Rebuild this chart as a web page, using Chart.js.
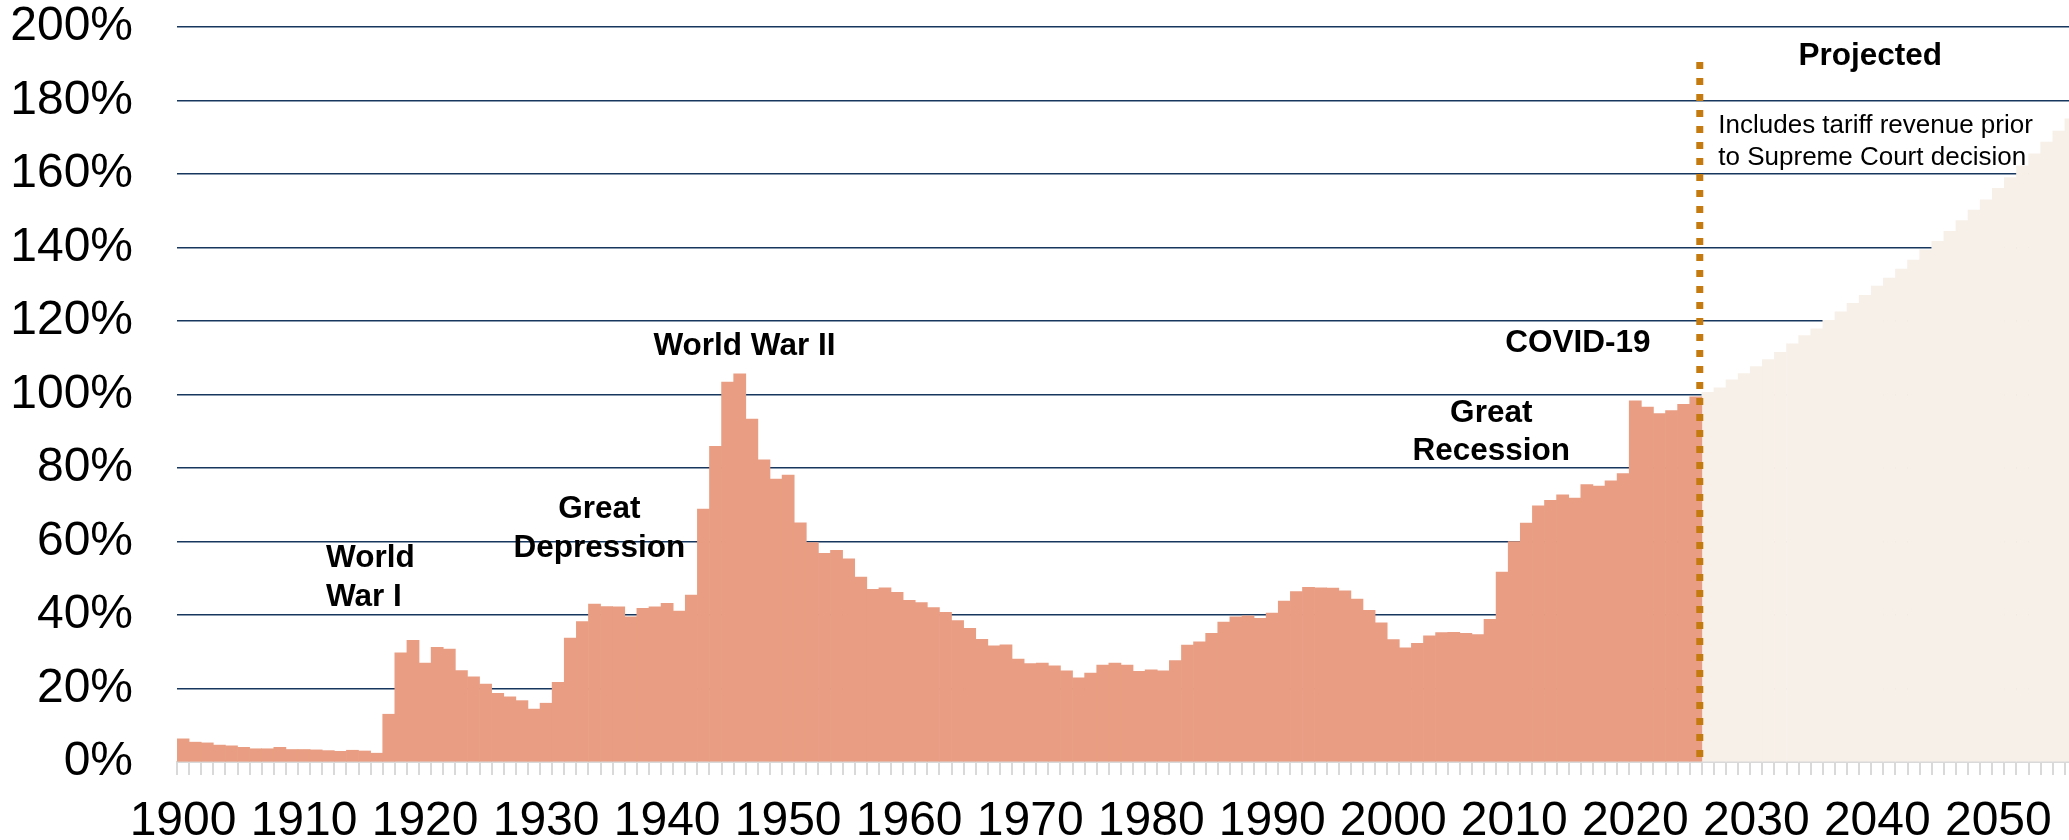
<!DOCTYPE html>
<html><head><meta charset="utf-8">
<script src="https://cdn.jsdelivr.net/npm/chart.js@4.4.1/dist/chart.umd.min.js"></script>
<style>
html,body{margin:0;padding:0;background:#fff;overflow:hidden;}
#wrap{position:absolute;left:0;top:0;width:2077px;height:840px;}
</style></head><body>
<div id="wrap"><canvas id="c"></canvas></div>
<script>
// ---- DATA ----
const firstYear = 1900;
const lastYear = 2056;
const years = [];
for (let yr = firstYear; yr <= lastYear; yr++) years.push(yr);

// Debt held by the public, % of GDP (historical 1900-2025)
const historical = [
  6.3, 5.4, 5.2, 4.6, 4.4, 4.0, 3.6, 3.6, 4.0, 3.4,
  3.4, 3.3, 3.1, 2.9, 3.2, 3.0, 2.4, 13.0, 29.7, 33.1,
  26.9, 31.2, 30.7, 24.9, 23.2, 21.2, 18.7, 17.7, 16.7, 14.4,
  16.0, 21.7, 33.7, 38.2, 43.0, 42.3, 42.2, 39.5, 41.8, 42.2,
  43.2, 41.1, 45.4, 68.8, 85.9, 103.4, 105.6, 93.3, 82.2, 77.0,
  78.1, 65.1, 59.7, 56.8, 57.6, 55.3, 50.3, 47.0, 47.4, 46.2,
  44.0, 43.4, 42.0, 40.7, 38.5, 36.4, 33.4, 31.6, 31.9, 28.0,
  26.8, 26.9, 26.2, 24.8, 22.9, 24.2, 26.4, 26.9, 26.4, 24.7,
  25.1, 24.8, 27.6, 31.8, 32.7, 35.0, 38.1, 39.5, 39.8, 39.1,
  40.5, 43.8, 46.4, 47.5, 47.4, 47.3, 46.6, 44.3, 41.3, 37.9,
  33.3, 31.1, 32.3, 34.3, 35.2, 35.3, 35.0, 34.7, 38.8, 51.7,
  60.0, 65.0, 69.7, 71.2, 72.7, 71.8, 75.5, 75.1, 76.5, 78.5,
  98.3, 96.6, 94.8, 95.6, 97.3, 99.4
];
// Projected 2026-2056
const projected = [
  100.6, 101.8, 104.0, 105.7, 107.6, 109.5, 111.5, 113.8, 116.0, 117.9,
  120.2, 122.5, 124.8, 127.0, 129.5, 131.7, 134.1, 136.6, 139.4, 141.7,
  144.4, 147.3, 150.2, 153.0, 156.1, 159.0, 162.2, 165.5, 168.7, 171.7,
  175.0
];
const yTicks = [0, 20, 40, 60, 80, 100, 120, 140, 160, 180, 200];
const xLabelYears = [1900, 1910, 1920, 1930, 1940, 1950, 1960, 1970, 1980, 1990, 2000, 2010, 2020, 2030, 2040, 2050];

// annotations (year position, value of first baseline)
const notes = [
  { lines: ['World War II'], year: 1946.39, value: 110.75, align: 'center', bold: true },
  { lines: ['World', 'War I'], year: 1911.81, value: 52.98, align: 'left', bold: true },
  { lines: ['Great', 'Depression'], year: 1934.4, value: 66.31, align: 'center', bold: true },
  { lines: ['Great', 'Recession'], year: 2008.1, value: 92.6, align: 'center', bold: true },
  { lines: ['COVID-19'], year: 2015.26, value: 111.65, align: 'center', bold: true },
  { lines: ['Projected'], year: 2039.42, value: 189.66, align: 'center', bold: true },
  { lines: ['Includes tariff revenue prior', 'to Supreme Court decision'], year: 2026.86, value: 171.07, align: 'left', bold: false }
];
const dividerYear = 2025.33;
const dividerTop = 190.5;

// ---- BUILD ----
const histData = years.map((yr, i) => i < historical.length ? historical[i] : null);
const projData = years.map((yr, i) => i >= historical.length ? projected[i - historical.length] : null);

const FONT = '"Liberation Sans", Arial, Helvetica, sans-serif';

const annotPlugin = {
  id: 'annot',
  afterDatasetsDraw(chart) {
    const { ctx, scales: { x, y } } = chart;
    ctx.save();
    // divider dotted line
    const dx = x.getPixelForValue(dividerYear - firstYear);
    ctx.strokeStyle = '#C47A0F';
    ctx.lineWidth = 7;
    ctx.setLineDash([7, 9]);
    ctx.beginPath();
    ctx.moveTo(dx, y.getPixelForValue(dividerTop));
    ctx.lineTo(dx, y.getPixelForValue(0));
    ctx.stroke();
    ctx.setLineDash([]);
    // texts
    ctx.fillStyle = '#000';
    ctx.textBaseline = 'alphabetic';
    notes.forEach(n => {
      const size = n.bold ? 31.5 : 26;
      const gap = n.bold ? 38.5 : 31.7;
      ctx.font = (n.bold ? 'bold ' : '') + size + 'px ' + FONT;
      ctx.textAlign = n.align;
      const px = x.getPixelForValue(n.year - firstYear);
      const py = y.getPixelForValue(n.value);
      n.lines.forEach((t, k) => ctx.fillText(t, px, py + k * gap));
    });
    ctx.restore();
  }
};

new Chart(document.getElementById('c'), {
  type: 'bar',
  data: {
    labels: years.map(String),
    datasets: [
      { label: 'Historical', data: histData, backgroundColor: '#E99E83', grouped: false,
        barPercentage: 1, categoryPercentage: 1, borderWidth: 0 },
      { label: 'Projected', data: projData, backgroundColor: '#F7F0E9', grouped: false,
        barPercentage: 1, categoryPercentage: 1, borderWidth: 0 }
    ]
  },
  options: {
    responsive: true, maintainAspectRatio: false, animation: false, devicePixelRatio: 1,
    // canvas is slightly wider than the window: the 2056 bar runs past the right edge
    layout: { padding: { top: 27, left: 0, right: 0, bottom: 0 } },
    plugins: { legend: { display: false }, tooltip: { enabled: false } },
    scales: {
      x: {
        offset: true,
        grid: { display: true, drawOnChartArea: false, drawTicks: true, tickLength: 13,
                color: '#D9D9D9', lineWidth: 2, offset: true },
        border: { display: true, color: '#D9D9D9', width: 2 },
        ticks: {
          autoSkip: false, maxRotation: 0, minRotation: 0, padding: 0, color: '#000',
          font: { family: FONT, size: 48, lineHeight: 1.95 },
          callback: (v, i) => xLabelYears.includes(years[i]) ? String(years[i]) : ''
        },
        afterFit: s => { s.height = 78; }
      },
      y: {
        min: 0, max: 200,
        afterBuildTicks: s => { s.ticks = yTicks.map(v => ({ value: v })); },
        ticks: { padding: 0, color: '#000', font: { family: FONT, size: 48, lineHeight: 1 },
                 callback: v => v + '%' },
        grid: { color: c => c.tick && c.tick.value === 0 ? 'rgba(0,0,0,0)' : '#17375E',
                lineWidth: 1.5, drawTicks: true, tickLength: 44, tickColor: 'rgba(0,0,0,0)' },
        border: { display: false },
        afterFit: s => { s.width = 177; }
      }
    }
  },
  plugins: [annotPlugin]
});
</script>
</body></html>
